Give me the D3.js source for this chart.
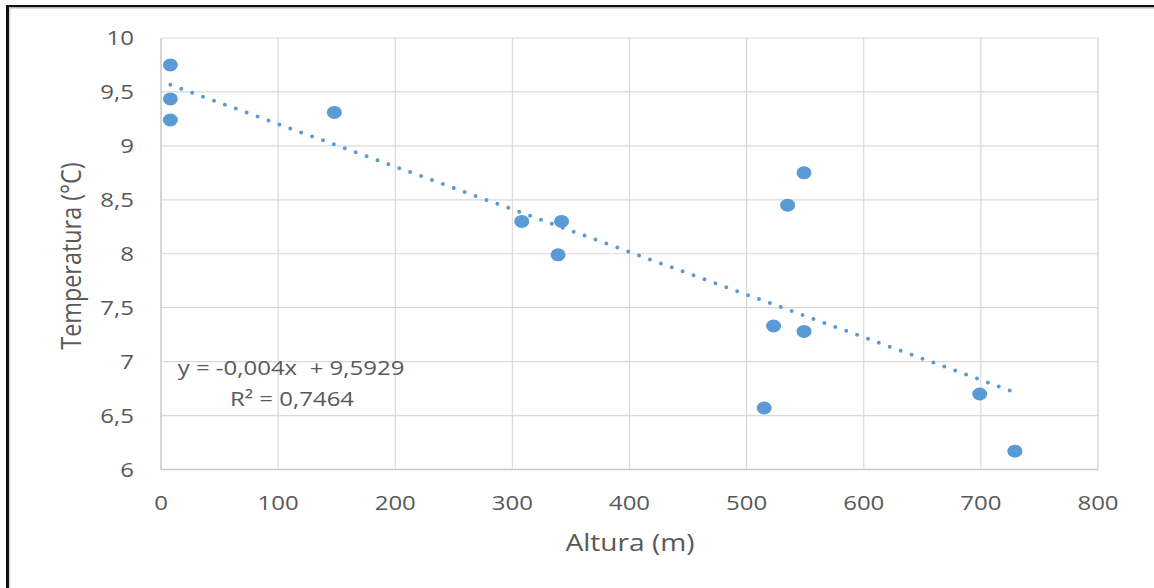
<!DOCTYPE html>
<html>
<head>
<meta charset="utf-8">
<script src="https://cdn.jsdelivr.net/npm/d3@7/dist/d3.min.js"></script>
<style>
  html, body { margin: 0; padding: 0; background: #fff; }
  svg { display: block; }
  text { font-family: "Open Sans", sans-serif; fill: #595959; white-space: pre; }
</style>
</head>
<body>
<svg id="chart" width="1154" height="588"></svg>
<script>
// ---- data ----
const altura = [8, 8, 8, 148, 308, 342, 339, 549, 535, 523, 549, 515, 699, 729];
const temperatura = [9.75, 9.435, 9.24, 9.31, 8.30, 8.30, 7.99, 8.75, 8.45, 7.33, 7.28, 6.57, 6.70, 6.17];
const xTicks = [0, 100, 200, 300, 400, 500, 600, 700, 800];
const yTicks = [6, 6.5, 7, 7.5, 8, 8.5, 9, 9.5, 10];
const equationText = "y = -0,004x  + 9,5929";
const r2Text = "R² = 0,7464";
const xTitle = "Altura (m)";
const yTitle = "Temperatura (°C)";

const W = 1154, H = 588;
const plot = { left: 161, right: 1098, top: 38, bottom: 469.5 };
const SX = 1.2; // horizontal stretch of the text

const svg = d3.select("#chart");
const x = d3.scaleLinear().domain([0, 800]).range([plot.left, plot.right]);
const y = d3.scaleLinear().domain([6, 10]).range([plot.bottom, plot.top]);
const fmt = v => String(v).replace(".", ",");

// outer frame
svg.append("rect").attr("x", 6).attr("y", 5).attr("width", W - 6).attr("height", 2.5).attr("fill", "#111");
svg.append("rect").attr("x", 6).attr("y", 5).attr("width", 3).attr("height", H - 5).attr("fill", "#111");
svg.append("rect").attr("x", 9).attr("y", 7.5).attr("width", W - 9).attr("height", 1.5).attr("fill", "#d9d9d9");
svg.append("rect").attr("x", 9).attr("y", 7.5).attr("width", 1.5).attr("height", H - 7.5).attr("fill", "#d9d9d9");

// gridlines
const grid = svg.append("g");
grid.selectAll("line.h").data(yTicks).join("line")
  .attr("x1", plot.left).attr("x2", plot.right)
  .attr("y1", d => y(d)).attr("y2", d => y(d))
  .attr("stroke", d => d === 6 ? "#c8c8c8" : "#d9d9d9").attr("stroke-width", d => d === 6 ? 1.5 : 1.2);
grid.selectAll("line.v").data(xTicks).join("line")
  .attr("y1", plot.top).attr("y2", plot.bottom)
  .attr("x1", d => x(d)).attr("x2", d => x(d))
  .attr("stroke", d => d === 0 ? "#c8c8c8" : "#d9d9d9").attr("stroke-width", d => (d === 0 || d === 800) ? 1.5 : 1.2);

// tick labels
function sText(g, tx, ty, str, size, anchor) {
  const t = g.append("g").attr("transform", `translate(${tx},${ty}) scale(${SX},1)`)
    .append("text").attr("x", 0).attr("y", 0)
    .attr("font-size", size).attr("text-anchor", anchor).text(str);
  return t;
}
const labels = svg.append("g");
yTicks.forEach(v => sText(labels, 134, y(v) + 7.3, fmt(v), 20, "end"));
xTicks.forEach(v => sText(labels, x(v), 509.5, fmt(v), 20, "middle"));

// axis titles
sText(labels, 630, 551, xTitle, 23.4, "middle");
svg.append("g").attr("transform", `translate(81,256) scale(${SX},1) rotate(-90)`)
  .append("text").attr("font-size", 23.4).attr("text-anchor", "middle").text(yTitle);

// regression trendline (least squares over data)
const mx = d3.mean(altura), my = d3.mean(temperatura);
let sxy = 0, sxx = 0;
altura.forEach((a, i) => { sxy += (a - mx) * (temperatura[i] - my); sxx += (a - mx) * (a - mx); });
const slope = sxy / sxx, intercept = my - slope * mx;
const x0 = d3.min(altura), x1 = d3.max(altura);
svg.append("line")
  .attr("x1", x(x0)).attr("y1", y(intercept + slope * x0))
  .attr("x2", x(x1)).attr("y2", y(intercept + slope * x1))
  .attr("stroke", "#5B9BD5").attr("stroke-width", 4)
  .attr("stroke-linecap", "round").attr("stroke-dasharray", "0 11.6");

// points
svg.append("g").selectAll("ellipse").data(altura.map((a, i) => [a, temperatura[i]])).join("ellipse")
  .attr("cx", d => x(d[0])).attr("cy", d => y(d[1]))
  .attr("rx", 7.5).attr("ry", 6.5).attr("fill", "#5B9BD5");

// equation labels
sText(labels, 291, 375, equationText, 20, "middle");
sText(labels, 292, 406, r2Text, 20, "middle");
</script>
</body>
</html>
